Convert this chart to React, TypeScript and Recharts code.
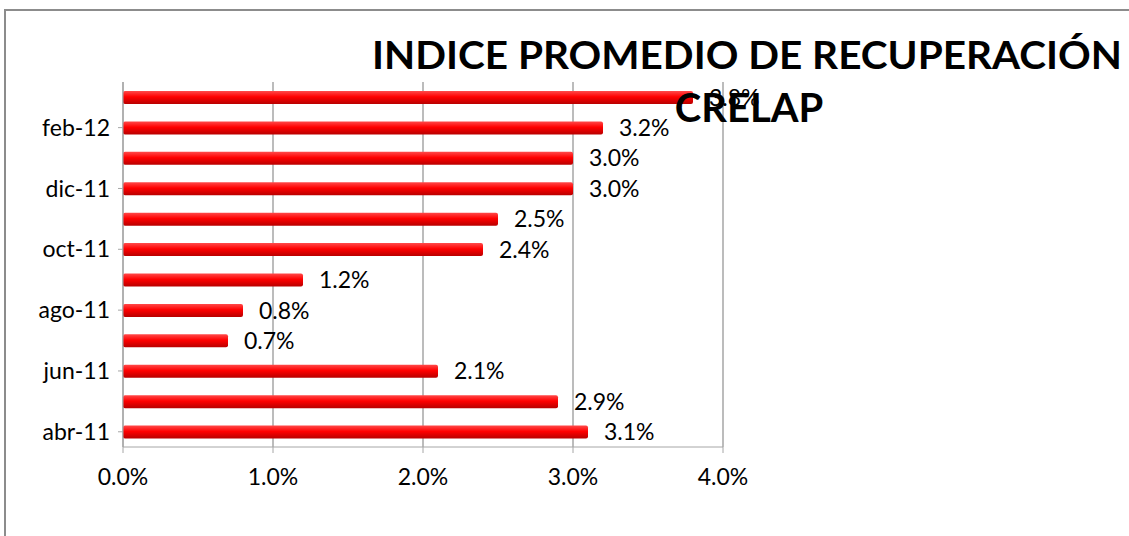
import React from 'react';
import { BarChart, Bar, XAxis, YAxis, CartesianGrid, LabelList } from 'recharts';

const months = ['abr-11', 'may-11', 'jun-11', 'jul-11', 'ago-11', 'sep-11', 'oct-11', 'nov-11', 'dic-11', 'ene-12', 'feb-12', 'mar-12'];
const indice = [0.031, 0.029, 0.021, 0.007, 0.008, 0.012, 0.024, 0.025, 0.03, 0.03, 0.032, 0.038];
const xTicks = [0, 0.01, 0.02, 0.03, 0.04];

const data = months.map((mes, i) => ({ mes, indice: indice[i] }));

const pct = (v: number) => `${(v * 100).toFixed(1)}%`;
const font = 'Lato, "Open Sans", sans-serif';

export default function App() {
  return (
    <div style={{ position: 'absolute', left: 0, top: 0, width: 1129, height: 536, overflow: 'hidden', background: '#fff' }}>
      {/* chart frame, right/bottom edges fall outside the picture */}
      <div
        style={{
          position: 'absolute',
          left: 4,
          top: 9,
          width: 1200,
          height: 600,
          borderLeft: '2px solid #8c8c8c',
          borderTop: '2px solid #8c8c8c',
        }}
      />
      <BarChart
        width={1129}
        height={536}
        data={data}
        layout="vertical"
        barCategoryGap={9}
        margin={{ top: 82, right: 406, left: 13, bottom: 49 }}
        style={{ position: 'absolute', left: 0, top: 0, fontFamily: font }}
      >
        <defs>
          <linearGradient id="barRed" x1="0" y1="0" x2="0" y2="1">
            <stop offset="0%" stopColor="#ff4a4a" />
            <stop offset="45%" stopColor="#ff0000" />
            <stop offset="100%" stopColor="#b80000" />
          </linearGradient>
        </defs>
        <CartesianGrid horizontal={false} stroke="#a6a6a6" strokeWidth={1.5} />
        <XAxis
          type="number"
          domain={[0, 0.04]}
          ticks={xTicks}
          tickFormatter={pct}
          height={40}
          stroke="#a6a6a6"
          tickSize={6}
          tickMargin={16}
          tick={{ fill: '#000', fontSize: 23, fontFamily: font }}
        />
        <YAxis
          type="category"
          dataKey="mes"
          reversed
          interval={1}
          width={110}
          stroke="#a6a6a6"
          tickSize={5}
          tickMargin={8}
          tick={{ fill: '#000', fontSize: 23, fontFamily: font }}
        />
        <Bar dataKey="indice" fill="url(#barRed)" barSize={13} radius={2} isAnimationActive={false}>
          <LabelList
            dataKey="indice"
            position="right"
            offset={16}
            formatter={(v: number) => pct(v)}
            style={{ fill: '#000', fontSize: 23, fontFamily: font }}
          />
        </Bar>
      </BarChart>
      <svg width={1129} height={140} style={{ position: 'absolute', left: 0, top: 0, pointerEvents: 'none' }}>
        <text
          x={372}
          y={69}
          textLength={750}
          lengthAdjust="spacingAndGlyphs"
          fontFamily={font}
          fontWeight={700}
          fontSize={39}
          fill="#000"
        >
          INDICE PROMEDIO DE RECUPERACIÓN
        </text>
        <text x={749} y={122} textAnchor="middle" fontFamily={font} fontWeight={700} fontSize={40} fill="#000">
          CRELAP
        </text>
      </svg>
    </div>
  );
}
